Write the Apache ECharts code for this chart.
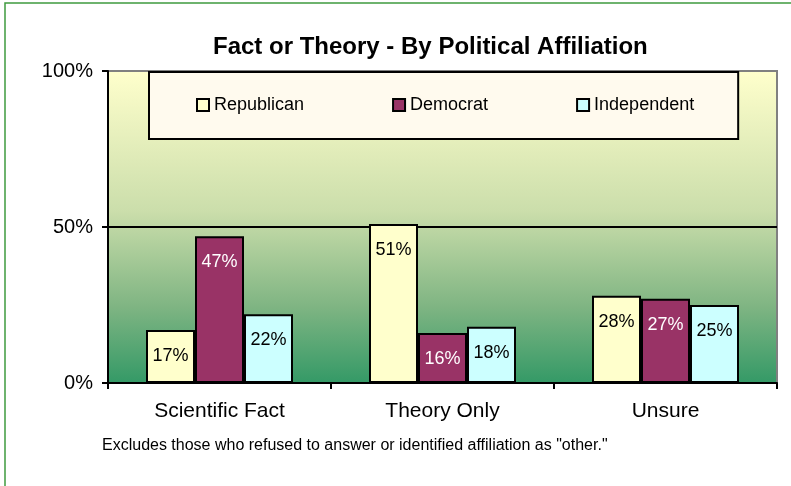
<!DOCTYPE html>
<html>
<head>
<meta charset="utf-8">
<style>
  html, body { margin: 0; padding: 0; background: #fff; }
  #chart { width: 791px; height: 486px; }
</style>
<script src="https://cdn.jsdelivr.net/npm/echarts@6/dist/echarts.min.js"></script>
</head>
<body>
<div id="chart"></div>
<script>
// Survey responses by political affiliation (percent of respondents)
const categories = ['Scientific Fact', 'Theory Only', 'Unsure'];
const republican = [17, 51, 28];
const democrat = [47, 16, 27];
const independent = [22, 18, 25];
const yTicks = [0, 50, 100];

const FONT = '"Liberation Sans", Arial, sans-serif';

const chart = echarts.init(document.getElementById('chart'), null, { renderer: 'canvas' });

function barSeries(name, data, fill, labelColor) {
  return {
    name: name,
    type: 'bar',
    data: data,
    barWidth: 49,
    barGap: '0%',
    itemStyle: { color: fill, borderColor: '#000', borderWidth: 2 },
    label: {
      show: true,
      position: 'insideTop',
      distance: 17,
      formatter: '{c}%',
      color: labelColor,
      fontFamily: FONT,
      fontSize: 18
    }
  };
}

chart.setOption({
  animation: false,
  backgroundColor: '#fff',
  title: [
    {
      text: 'Fact or Theory - By Political Affiliation',
      left: 208,
      top: 30,
      textStyle: { fontFamily: FONT, fontSize: 24, fontWeight: 'bold', color: '#000' }
    },
    {
      text: 'Excludes those who refused to answer or identified affiliation as "other."',
      left: 97,
      top: 433,
      textStyle: { fontFamily: FONT, fontSize: 16, fontWeight: 'normal', color: '#000' }
    }
  ],
  graphic: [
    {
      type: 'rect',
      shape: { x: 5, y: 3, width: 820, height: 520 },
      style: { fill: 'none', stroke: '#3f9a3f', lineWidth: 1.5 },
      silent: true,
      z: 100
    }
  ],
  legend: {
    left: 149,
    top: 72,
    padding: [24, 44, 25, 47],
    itemGap: 88,
    itemWidth: 12,
    itemHeight: 12,
    icon: 'rect',
    backgroundColor: '#fffaee',
    borderColor: '#000',
    borderWidth: 2,
    textStyle: { fontFamily: FONT, fontSize: 18, color: '#000' },
    data: ['Republican', 'Democrat', 'Independent']
  },
  grid: {
    left: 108,
    right: 14,
    top: 71,
    bottom: 103,
    show: true,
    borderColor: '#808080',
    borderWidth: 2,
    backgroundColor: new echarts.graphic.LinearGradient(0, 0, 0, 1, [
      { offset: 0, color: '#ffffcc' },
      { offset: 0.45, color: '#cbdeab' },
      { offset: 0.75, color: '#80b583' },
      { offset: 1, color: '#339966' }
    ])
  },
  xAxis: {
    type: 'category',
    data: categories,
    axisLine: { lineStyle: { color: '#000', width: 2 } },
    axisTick: { show: true, length: 6, lineStyle: { color: '#000', width: 2 } },
    axisLabel: { margin: 18, fontFamily: FONT, fontSize: 21, color: '#000' },
    z: 5
  },
  yAxis: {
    type: 'value',
    min: yTicks[0],
    max: yTicks[yTicks.length - 1],
    interval: yTicks[1] - yTicks[0],
    axisLine: { show: true, lineStyle: { color: '#000', width: 2 } },
    axisTick: { show: true, length: 6, lineStyle: { color: '#000', width: 2 } },
    axisLabel: { margin: 15, fontFamily: FONT, fontSize: 20, color: '#000', formatter: '{value}%' },
    splitLine: { show: true, lineStyle: { color: ['transparent', '#000', '#808080'], width: 2 } }
  },
  series: [
    barSeries('Republican', republican, '#ffffcc', '#000'),
    barSeries('Democrat', democrat, '#993366', '#fff'),
    barSeries('Independent', independent, '#ccffff', '#000')
  ]
});
</script>
</body>
</html>
